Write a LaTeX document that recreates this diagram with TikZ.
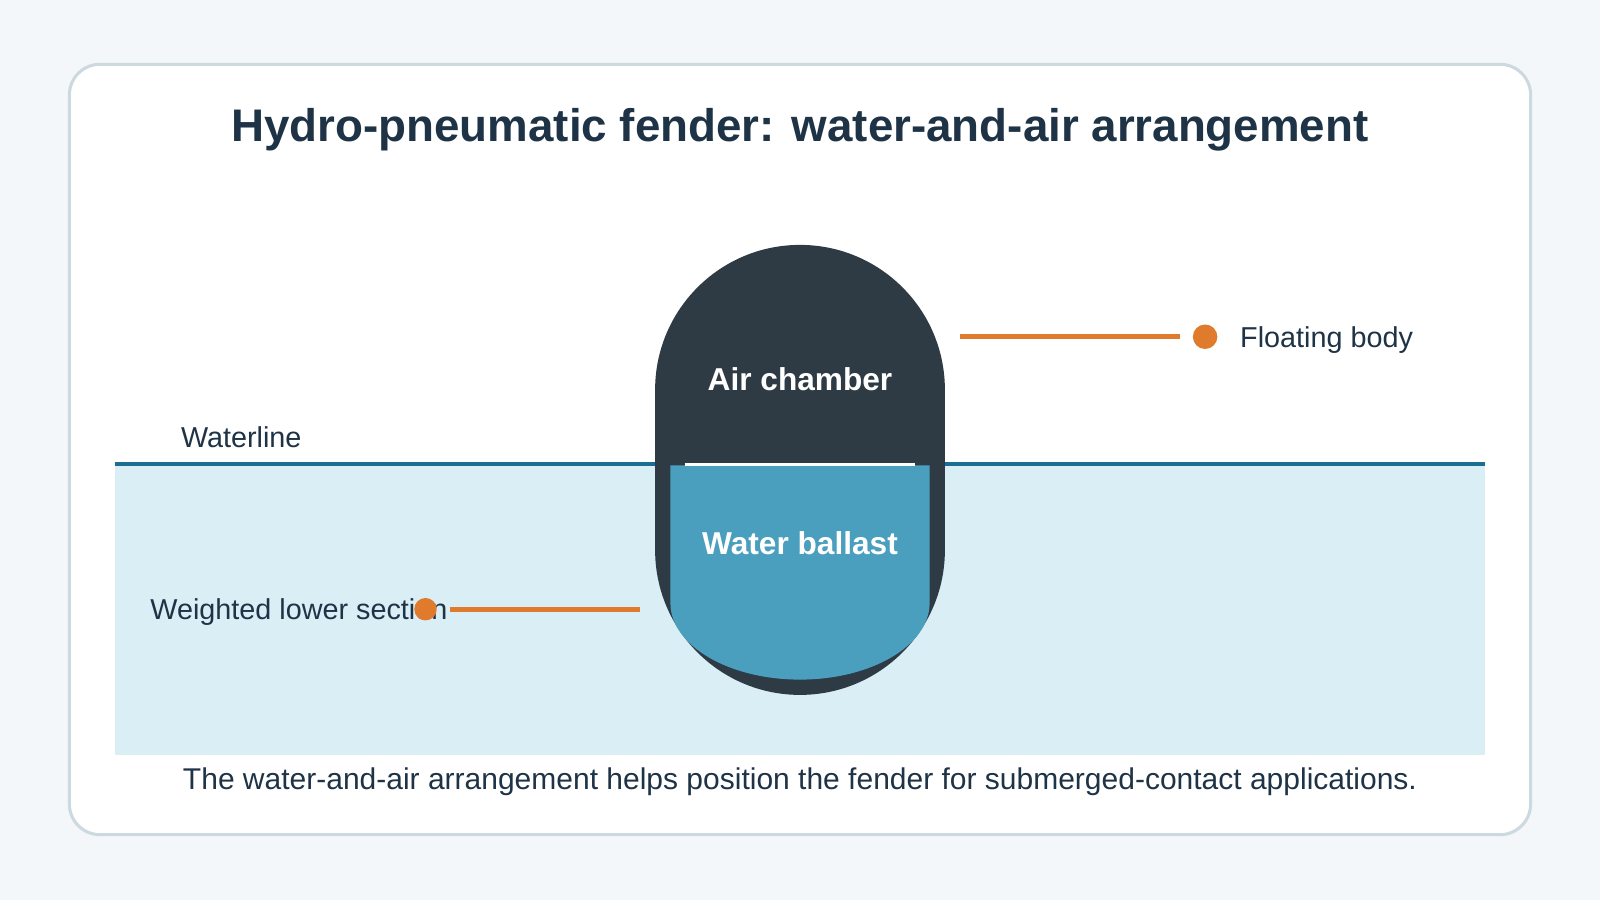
\documentclass[tikz,border=0pt]{standalone}
\usepackage{fontspec}
\setmainfont{Liberation Sans}
\definecolor{bg}{HTML}{F3F7FA}
\definecolor{cardb}{HTML}{CDD9E1}
\definecolor{txt}{HTML}{1F3347}
\definecolor{sea}{HTML}{D9EEF5}
\definecolor{wline}{HTML}{1A6E93}
\definecolor{hull}{HTML}{2F3B44}
\definecolor{ballast}{HTML}{4A9FBE}
\definecolor{orng}{HTML}{E07B2E}
\begin{document}
\begin{tikzpicture}[x=0.5pt,y=-0.5pt,
  lbl/.style={text=txt,font=\fontsize{14.1}{17}\selectfont,inner sep=0},
  inner/.style={text=white,font=\bfseries\fontsize{15.5}{19}\selectfont},
  lead/.style={draw=orng,line width=2.5pt},
  dot/.style={circle,fill=orng,minimum size=12pt,inner sep=0}]
\useasboundingbox[fill=bg] (0,0) rectangle (1568,882);
\draw[cardb,line width=1.5pt,fill=white,rounded corners=15pt] (68,63) rectangle (1500,818);
\node[text=txt,font=\bfseries\fontsize{22.4}{27}\selectfont] (title) at (784,127) {Hydro-pneumatic fender: water-and-air arrangement};
\fill[sea] (113,456) rectangle (1455,740);
\draw[wline,line width=2pt] (113,455) -- (1455,455);
\node[lbl,anchor=west] (wl) at (177,428) {Waterline};
\fill[hull] (642,539) -- (642,382) arc[start angle=180,end angle=360,radius=142] -- (926,539) arc[start angle=0,end angle=180,radius=142] -- cycle;
\fill[ballast] (657,456) -- (657,591) arc[start angle=180,end angle=0,x radius=127,y radius=75] -- (911,456) -- cycle;
\draw[white,line width=1.5pt] (671,455) -- (897,455);
\node[inner] (air) at (784,372) {Air chamber};
\node[inner] (water) at (784,532) {Water ballast};
\coordinate (fb1) at (941,330);
\node[dot] (fbd) at (1181,330) {};
\draw[lead] (fb1) -- (1156,330);
\node[lbl,anchor=west] (fb) at (1215,333) {Floating body};
\node[lbl,anchor=west] (wls) at (147,600) {Weighted lower section};
\node[dot,minimum size=11pt] (wd) at (417,597) {};
\coordinate (wl2) at (627,597);
\draw[lead] (441,597) -- (wl2);
\node[text=txt,font=\fontsize{14.7}{17}\selectfont] (cap) at (784,766) {The water-and-air arrangement helps position the fender for submerged-contact applications.};
\end{tikzpicture}
\end{document}
